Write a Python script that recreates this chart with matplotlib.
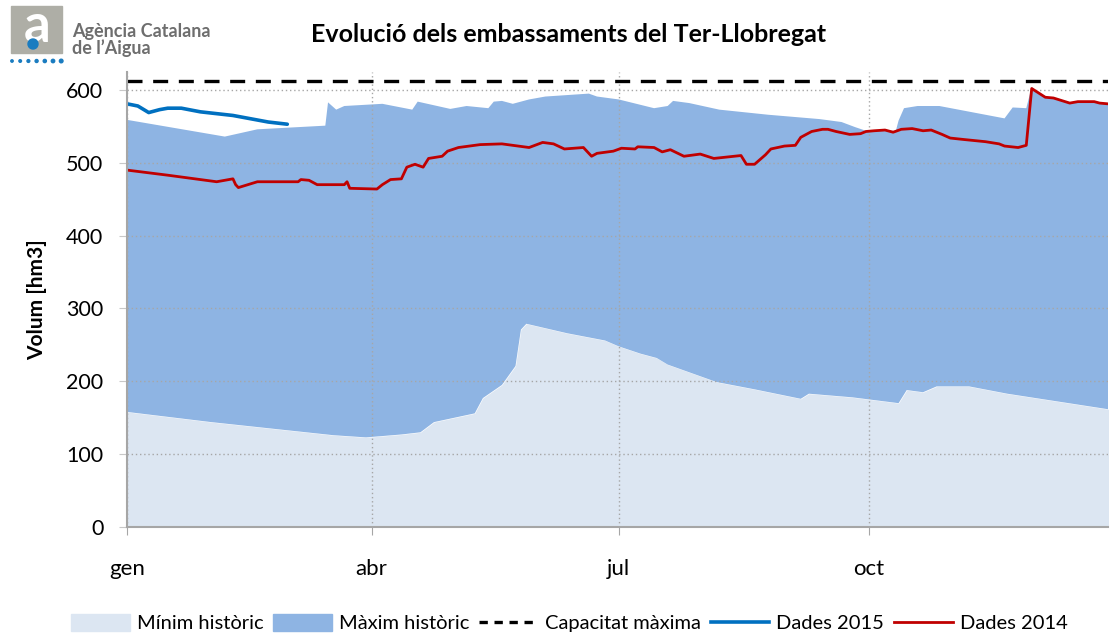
"""
Evolució dels embassaments del Ter-Llobregat.
"""

import numpy as np
import matplotlib.pyplot as plt
from matplotlib.patches import Rectangle, Circle
from matplotlib.lines import Line2D

# Dades (dia de l'any, hm3)
MESOS = ["gen", "abr", "jul", "oct"]
DIES_MESOS = [0, 90, 181, 273]

CAPACITAT = 612

min_dies = [0, 31, 76, 88, 101, 108, 113, 128, 131, 138, 143, 145, 147, 162, 176,
            181, 189, 195, 199, 217, 231, 248, 251, 267, 284, 287, 293, 298, 310, 324, 364]
min_vals = [158, 144, 126, 123, 127, 130, 144, 156, 177, 195, 221, 271, 279, 266, 256,
            248, 238, 232, 223, 199, 189, 176, 183, 178, 170, 188, 185, 193, 193, 183, 160]

max_dies = [0, 36, 48, 73, 74, 77, 80, 94, 105, 107, 119, 125, 133, 135, 138, 142, 148,
            154, 170, 173, 181, 194, 199, 201, 207, 218, 236, 255, 263, 268, 272, 283, 284,
            286, 291, 299, 323, 326, 331, 333, 338, 341, 347, 350, 356, 358, 364]
max_vals = [559, 536, 546, 551, 583, 573, 578, 581, 573, 584, 574, 578, 575, 584, 585, 581,
            587, 591, 595, 591, 587, 575, 578, 585, 582, 573, 566, 560, 556, 549, 544, 544,
            558, 575, 578, 578, 561, 576, 575, 604, 590, 589, 582, 584, 584, 582, 580]

dies_2015 = [0, 4, 8, 12, 15, 20, 27, 39, 52, 59]
vals_2015 = [581, 578, 569, 573, 575, 575, 570, 565, 556, 553]

dies_2014 = [0, 15, 33, 39, 40, 41, 48, 63, 64, 67, 70, 80, 81, 82, 92, 94, 97, 101, 103,
             106, 109, 111, 116, 118, 122, 130, 138, 148, 153, 157, 161, 168, 171, 173, 179,
             182, 187, 188, 194, 197, 200, 205, 211, 216, 226, 228, 231, 235, 237, 242, 246,
             248, 252, 256, 258, 261, 266, 270, 272, 275, 279, 282, 285, 289, 293, 296, 300,
             303, 308, 316, 321, 323, 328, 331, 333, 338, 341, 347, 350, 356, 358, 364]
vals_2014 = [490, 483, 474, 478, 470, 466, 474, 474, 477, 476, 470, 470, 474, 465, 464, 470,
             477, 478, 494, 498, 494, 506, 509, 516, 521, 525, 526, 521, 528, 526, 519, 521,
             509, 513, 516, 520, 519, 522, 521, 515, 518, 509, 512, 506, 510, 498, 498, 511,
             519, 523, 524, 535, 543, 546, 546, 543, 539, 540, 543, 544, 545, 542, 546, 547,
             544, 545, 539, 534, 532, 529, 526, 523, 521, 524, 602, 590, 589, 582, 584, 584,
             582, 580]

C_MIN = "#dce6f2"
C_MAX = "#8eb4e3"
C_2015 = "#0070c0"
C_2014 = "#c00000"

plt.rcParams["font.family"] = ["Lato", "DejaVu Sans"]

fig = plt.figure(figsize=(11.1, 6.34), dpi=100)
ax = fig.add_axes([0.1144, 0.1688, 0.8836, 0.718])

# Mínim històric (sota la graella), màxim històric (per sobre)
ax.fill_between(min_dies, 0, min_vals, color=C_MIN, lw=0, zorder=0)
ax.fill(np.r_[max_dies, min_dies[::-1]], np.r_[max_vals, min_vals[::-1]],
        color=C_MAX, lw=0, zorder=2)

ax.axhline(CAPACITAT, color="black", lw=2.4, ls=(0, (4.5, 3.2)), zorder=4)
ax.plot(dies_2015, vals_2015, color=C_2015, lw=2.6, zorder=5, solid_capstyle="round")
ax.plot(dies_2014, vals_2014, color=C_2014, lw=2.0, zorder=5)

ax.set_xlim(0, 361)
ax.set_ylim(0, 625)
ax.set_xticks(DIES_MESOS)
ax.set_xticklabels(MESOS)
ax.set_yticks(range(0, 601, 100))
ax.grid(True, color="#a6a6a6", ls=(0, (1, 2)), lw=1.0, zorder=1)
ax.set_axisbelow(False)
for gl in ax.get_xgridlines() + ax.get_ygridlines():
    gl.set_zorder(1)

for s in ["top", "right"]:
    ax.spines[s].set_visible(False)
for s in ["left", "bottom"]:
    ax.spines[s].set_color("#a6a6a6")
    ax.spines[s].set_linewidth(1.5)
    ax.spines[s].set_zorder(6)

ax.tick_params(axis="x", length=6, color="#a6a6a6", pad=17, labelsize=16)
ax.tick_params(axis="y", length=6, color="#c8c8c8", pad=11, labelsize=15.5)
ax.set_ylabel("Volum [hm3]", fontsize=15, fontweight="bold", labelpad=14)

fig.text(0.512, 0.946, "Evolució dels embassaments del Ter-Llobregat",
         ha="center", va="center", fontsize=18, fontweight="bold")

# Logotip
lax = fig.add_axes([0, 0, 1, 1], facecolor="none")
lax.set_xlim(0, 1110)
lax.set_ylim(634, 0)
lax.axis("off")
lax.add_patch(Rectangle((11, 6), 51, 47, color="#aeaea6"))
lax.text(37, 27, "a", color="white", fontsize=38, fontweight="bold",
         ha="center", va="center")
lax.add_patch(Circle((33, 44), 5, color="#1a7cc0", zorder=3))
for i in range(7):
    lax.add_patch(Circle((12 + i * 8.2, 61), 1.2 + i * 0.1, color="#1a7cc0"))
lax.text(72, 31, "Agència Catalana", color="#6e6e6e", fontsize=13,
         fontweight="bold", va="center")
lax.text(72, 48, "de l’Aigua", color="#6e6e6e", fontsize=13,
         fontweight="bold", va="center")

# Llegenda
handles = [
    Rectangle((0, 0), 1, 1, color=C_MIN),
    Rectangle((0, 0), 1, 1, color=C_MAX),
    Line2D([], [], color="black", lw=2.4, ls=(0, (2.5, 2))),
    Line2D([], [], color=C_2015, lw=2.6),
    Line2D([], [], color=C_2014, lw=2.0),
]
labels = ["Mínim històric", "Màxim històric", "Capacitat màxima", "Dades 2015", "Dades 2014"]
fig.legend(handles, labels, loc="center", bbox_to_anchor=(0.513, 0.017), ncol=5,
           frameon=False, fontsize=14.5, handlelength=2.9, handleheight=0.9,
           handletextpad=0.35, columnspacing=0.5)

fig.savefig("out.png", dpi=100)
